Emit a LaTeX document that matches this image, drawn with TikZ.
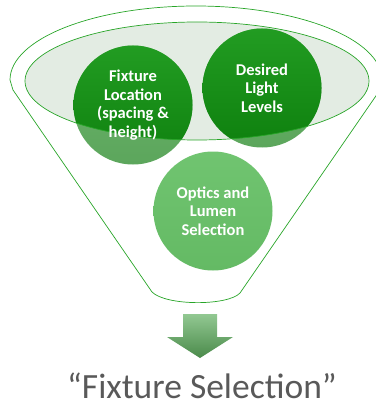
\documentclass[tikz,border=0pt]{standalone}
\usepackage{fontspec}
\setmainfont{Carlito}
\usetikzlibrary{positioning, shapes.geometric}
\definecolor{rimgreen}{RGB}{40,165,40}
\definecolor{mouthfill}{RGB}{227,236,227}
\definecolor{darkgreen}{RGB}{14,128,14}
\definecolor{darkgreentop}{RGB}{34,156,34}
\definecolor{washgreen}{RGB}{92,166,92}
\definecolor{washgreentop}{RGB}{108,180,108}
\definecolor{opticsgreen}{RGB}{100,186,100}
\definecolor{opticsgreentop}{RGB}{112,196,112}
\definecolor{arrowtop}{RGB}{146,200,146}
\definecolor{arrowbottom}{RGB}{74,138,74}
\definecolor{labelgray}{RGB}{89,89,89}
\tikzstyle{rim} = [draw=rimgreen, line width=0.7pt]
\tikzstyle{ball} = [circle, minimum size=119pt, inner sep=0pt]
\tikzstyle{balltext} = [align=center, text=white, font=\bfseries\fontsize{16.5}{18.6}\selectfont]

\begin{document}
\begin{tikzpicture}[x=1pt, y=-1pt]
\useasboundingbox (0,0) rectangle (375,406);

% Funnel
\draw [rim] (10,80) arc[start angle=180, end angle=360, x radius=186, y radius=74]
  -- (380,90) -- (240,293) .. controls (228,306) and (166,306) .. (152,292) -- (13,90) -- cycle;

% Mouth
\fill [mouthfill] (197,81) ellipse (172 and 59);

% Balls
\node (fixture) [ball, top color=washgreentop, bottom color=washgreen] at (133,105) {};
\node (levels) [ball, top color=washgreentop, bottom color=washgreen] at (262,88) {};
\node (optics) [ball, top color=opticsgreentop, bottom color=opticsgreen] at (213,211) {};

% Dark part inside the mouth
\begin{scope}
\clip (197,81) ellipse (172 and 59);
\shade [top color=darkgreentop, bottom color=darkgreen] (fixture.center) circle (59.5);
\shade [top color=darkgreentop, bottom color=darkgreen] (levels.center) circle (59.5);
\end{scope}
\draw [rim] (197,81) ellipse (172 and 59);

% Ball labels
\node (fixture label) [balltext] at (fixture) {Fixture\\Location\\(spacing \&\\height)};
\node (levels label) [balltext] at (levels) {Desired\\Light\\Levels};
\node (optics label) [balltext] at (optics) {Optics and\\Lumen\\Selection};

% Output
\shade [top color=arrowtop, bottom color=arrowbottom] (183,314) -- (217,314) -- (217,337) -- (233,337)
  -- (200,358) -- (167,337) -- (183,337) -- cycle;
\node (result) [anchor=base, text=labelgray, font=\fontsize{35.5}{40}\selectfont] at (202,398) {“Fixture Selection”};

\end{tikzpicture}
\end{document}
